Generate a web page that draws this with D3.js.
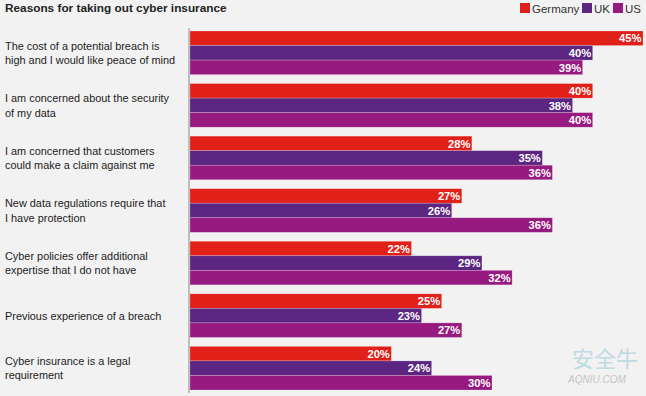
<!DOCTYPE html>
<html>
<head>
<meta charset="utf-8">
<script src="https://cdn.jsdelivr.net/npm/d3@7"></script>
<style>
  body { margin: 0; background: #f2f2f2; }
  svg { display: block; font-family: "Liberation Sans", Arial, sans-serif; }
</style>
</head>
<body>
<svg width="646" height="396"></svg>
<script>
const categories = [
    ['The cost of a potential breach is', 'high and I would like peace of mind'],
    ['I am concerned about the security', 'of my data'],
    ['I am concerned that customers', 'could make a claim against me'],
    ['New data regulations require that', 'I have protection'],
    ['Cyber policies offer additional', 'expertise that I do not have'],
    ['Previous experience of a breach'],
    ['Cyber insurance is a legal', 'requirement']
]
const series = ['Germany', 'UK', 'US']
const germany = [45, 40, 28, 27, 22, 25, 20]
const uk = [40, 38, 35, 26, 29, 23, 24]
const us = [39, 40, 36, 36, 32, 27, 30]
const colors = ['#e2201a', '#5b2581', '#961a80']

const values = [germany, uk, us]
const svg = d3.select('svg')
const marginLeft = 190
const marginTop = 31
const plotBottom = 390

const y = d3.scaleBand()
    .domain(d3.range(categories.length))
    .range([marginTop, plotBottom])
    .paddingInner(0.17)
const ySub = d3.scaleBand().domain(series).range([0, y.bandwidth()])
const x = d3.scaleLinear().domain([0, 45]).range([marginLeft, 643])

// title
svg.append('text')
    .attr('x', 5).attr('y', 12)
    .attr('font-size', 11.8).attr('font-weight', 'bold').attr('fill', '#222')
    .text('Reasons for taking out cyber insurance')

// legend
const legendX = [520, 582, 613]
const legend = svg.append('g').selectAll('g').data(series).join('g')
    .attr('transform', (d, i) => `translate(${legendX[i]}, 3)`)
legend.append('rect').attr('width', 10).attr('height', 10)
    .attr('fill', (d, i) => colors[i])
legend.append('text').attr('x', 12).attr('y', 10)
    .attr('font-size', 11.5).attr('fill', '#333')
    .text(d => d)

// groups
const groups = svg.append('g').selectAll('g').data(categories).join('g')
    .attr('transform', (d, i) => `translate(0, ${y(i)})`)

groups.append('text')
    .attr('font-size', 10.9).attr('fill', '#222')
    .selectAll('tspan').data(d => d).join('tspan')
    .attr('x', 5)
    .attr('y', (d, j, nodes) => y.bandwidth() / 2 + 4 + (j - (nodes.length - 1) / 2) * 14.5)
    .text(d => d)

series.forEach((s, si) => {
    groups.append('rect')
        .attr('x', x(0))
        .attr('y', ySub(s))
        .attr('width', (d, i) => x(values[si][i]) - x(0))
        .attr('height', ySub.bandwidth())
        .attr('fill', colors[si])
        .attr('stroke', 'rgba(255,255,255,0.35)')
        .attr('stroke-width', 0.6)
    groups.append('text')
        .attr('x', (d, i) => x(values[si][i]) - 1.5)
        .attr('y', ySub(s) + ySub.bandwidth() / 2 + 4.2)
        .attr('text-anchor', 'end')
        .attr('font-size', 11.2).attr('font-weight', 'bold').attr('fill', '#fff')
        .text((d, i) => values[si][i] + '%')
})

// axis line
svg.append('line')
    .attr('x1', marginLeft - 1).attr('x2', marginLeft - 1)
    .attr('y1', marginTop - 3).attr('y2', plotBottom + 3)
    .attr('stroke', '#888').attr('stroke-width', 1)

// watermark
svg.append('text').attr('x', 572).attr('y', 367)
    .attr('font-family', 'Noto Sans CJK SC').attr('font-size', 22)
    .attr('fill', '#a9d0dc').attr('opacity', 0.7).text('安全牛')
svg.append('text').attr('x', 568).attr('y', 383)
    .attr('font-size', 10).attr('font-style', 'italic')
    .attr('fill', '#b8b8b8').attr('opacity', 0.8).text('AQNIU.COM')
</script>
</body>
</html>
